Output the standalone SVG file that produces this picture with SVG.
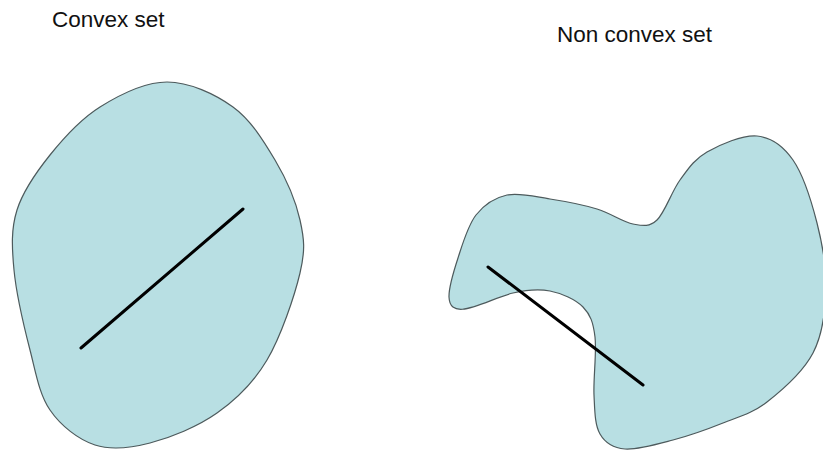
<svg xmlns="http://www.w3.org/2000/svg" width="823" height="459" viewBox="0 0 823 459">
<style>
.label{font-family:"Liberation Sans",Arial,sans-serif;font-size:22.5px;fill:#111}
.set{fill:#b8dfe3;stroke:#4d5a5c;stroke-width:1.2}
.seg{stroke:#000;stroke-width:3;stroke-linecap:round;fill:none}
</style>
<rect width="823" height="459" fill="#fff"/>
<g id="convex">
<path class="set" d="M167,82 C189.2,82 215,94 233,107 S263.8,141.2 275,160 S295.8,201.2 300,220 S305.5,249.7 300,273 S280.8,336.7 267,360 S236.5,399.2 217,413 S170.3,437.7 150,443 S111.7,450.5 95,445 S60.8,425.8 50,410 S36,373.3 30,350 S16.2,293.3 14,270 S11,229.2 17,210 S36.2,172.2 50,155 S80.5,119.2 100,107 S144.8,82 167,82 Z"/>
<text class="label" x="52" y="27">Convex set</text>
</g>
<g id="nonconvex">
<path class="set" d="M449,297 C448.7,289 453.5,271.8 458,258 S467.8,225.5 476,215 S494.7,197.7 507,195 S535,196.7 550,199 S583.2,204.8 597,209 S623,222.2 633,224 S649.2,227.3 657,220 S671.7,191.3 680,180 S694.2,159.3 707,152 S742.7,134.7 757,136 S783,145.5 793,160 S811.5,201.3 817,223 S826.7,268.3 826,290 S822.8,334.3 813,353 S782,390.3 767,402 S738.7,416.7 723,423 S689.3,435.7 673,440 S637.2,450 625,449 S605.2,443 600,434 S594.8,411.2 594,395 S596.8,351.7 595,337 S590.5,314.7 583,307 S561.7,293.3 550,291 S526.8,289.8 513,293 C488,299 450,324 449,297 Z"/>
<text class="label" x="557" y="42">Non convex set</text>
</g>
<g id="connectors">
<line class="seg" x1="81" y1="348" x2="243" y2="209"/>
<line class="seg" x1="488" y1="267" x2="643" y2="385"/>
</g>
</svg>
